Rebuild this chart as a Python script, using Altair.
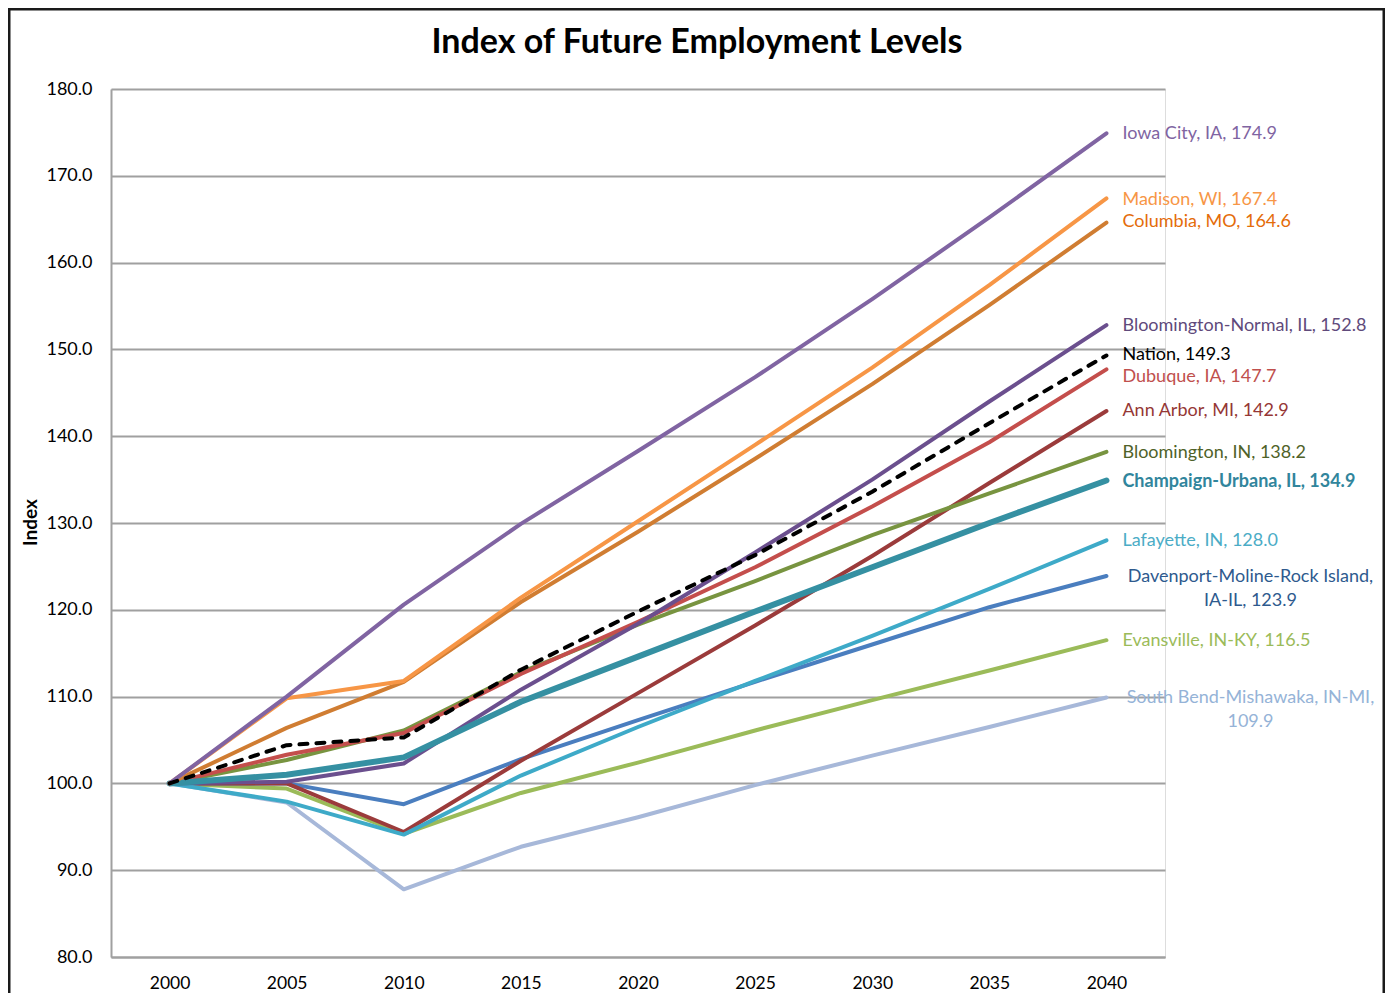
import altair as alt
import pandas as pd

years = ["2000", "2005", "2010", "2015", "2020", "2025", "2030", "2035", "2040"]

iowa_city = [100.0, 110.0, 120.6, 129.9, 138.3, 146.8, 155.8, 165.2, 174.9]
madison = [100.0, 109.8, 111.8, 121.4, 130.2, 139.0, 147.9, 157.4, 167.4]
columbia = [100.0, 106.4, 111.7, 120.9, 129.0, 137.4, 146.0, 155.1, 164.6]
bloomington_normal = [100.0, 100.2, 102.3, 110.8, 118.4, 126.6, 135.0, 144.0, 152.8]
nation = [100.0, 104.4, 105.3, 113.1, 119.8, 126.3, 133.6, 141.5, 149.3]
dubuque = [100.0, 103.3, 105.8, 112.6, 118.6, 124.9, 131.9, 139.3, 147.7]
ann_arbor = [100.0, 100.0, 94.4, 102.6, 110.4, 118.2, 126.2, 134.6, 142.9]
bloomington_in = [100.0, 102.7, 106.1, 112.8, 118.3, 123.3, 128.6, 133.4, 138.2]
champaign = [100.0, 101.0, 103.0, 109.4, 114.6, 119.8, 124.9, 130.0, 134.9]
lafayette = [100.0, 97.9, 94.1, 100.9, 106.5, 111.8, 117.0, 122.4, 128.0]
davenport = [100.0, 100.0, 97.6, 102.8, 107.3, 111.7, 116.0, 120.3, 123.9]
evansville = [100.0, 99.4, 94.2, 98.9, 102.4, 106.1, 109.6, 113.0, 116.5]
south_bend = [100.0, 97.8, 87.8, 92.7, 96.1, 99.8, 103.2, 106.5, 109.9]

series_names = [
    "South Bend", "Evansville", "Davenport", "Ann Arbor", "Lafayette",
    "Bloomington IN", "Dubuque", "Bloomington-Normal", "Champaign",
    "Columbia", "Madison", "Iowa City", "Nation",
]
series_values = [
    south_bend, evansville, davenport, ann_arbor, lafayette,
    bloomington_in, dubuque, bloomington_normal, champaign,
    columbia, madison, iowa_city, nation,
]
label_texts = [
    "South Bend-Mishawaka, IN-MI,\n109.9",
    "Evansville, IN-KY,  116.5",
    "Davenport-Moline-Rock Island,\nIA-IL, 123.9",
    "Ann Arbor, MI, 142.9",
    "Lafayette, IN, 128.0",
    "Bloomington,  IN,  138.2",
    "Dubuque, IA, 147.7",
    "Bloomington-Normal,  IL, 152.8",
    "Champaign-Urbana,  IL, 134.9",
    "Columbia,  MO, 164.6",
    "Madison, WI, 167.4",
    "Iowa City, IA, 174.9",
    "Nation,  149.3",
]

# styles (kept separate from data)
style = {
    "South Bend":         dict(line="#A7B8D9", text="#95B3D7", w=4, dash=None, dy=0.5, two=True),
    "Evansville":         dict(line="#9BBB59", text="#9BBB59", w=4, dash=None, dy=1, two=False),
    "Davenport":          dict(line="#4A7EBF", text="#2E5A8E", w=4, dash=None, dy=1, two=True),
    "Ann Arbor":          dict(line="#9B3B3B", text="#953735", w=4, dash=None, dy=0, two=False),
    "Lafayette":          dict(line="#3EAAC8", text="#4BACC6", w=4, dash=None, dy=0.5, two=False),
    "Bloomington IN":     dict(line="#789440", text="#4F6228", w=4, dash=None, dy=1, two=False),
    "Dubuque":            dict(line="#C44E4C", text="#C0504D", w=4, dash=None, dy=8, two=False),
    "Bloomington-Normal": dict(line="#6B4F8E", text="#604A7B", w=4, dash=None, dy=1, two=False),
    "Champaign":          dict(line="#3590A2", text="#31859C", w=6, dash=None, dy=1.5, two=False, bold=True),
    "Columbia":           dict(line="#D07D32", text="#E46C0A", w=4, dash=None, dy=-1, two=False),
    "Madison":            dict(line="#F79646", text="#F79646", w=4, dash=None, dy=2, two=False),
    "Iowa City":          dict(line="#8064A2", text="#8064A2", w=4, dash=None, dy=1, two=False),
    "Nation":             dict(line="#000000", text="#000000", w=4, dash=[8, 9], dy=0, two=False),
}

rows = []
for name, vals in zip(series_names, series_values):
    for yr, v in zip(years, vals):
        rows.append({"series": name, "year": yr, "value": v})
df = pd.DataFrame(rows)

lab_df = pd.DataFrame({
    "series": series_names,
    "label": label_texts,
    "year": [years[-1]] * len(series_names),
    "value": [vals[-1] for vals in series_values],
})

FONT = "Lato"
GRID = "#A0A0A0"

x_enc = alt.X(
    "year:O",
    sort=years,
    scale=alt.Scale(type="point", padding=0.5),
    axis=alt.Axis(title=None, labelAngle=0, ticks=False, grid=False,
                  domainColor=GRID, domainWidth=2, labelFont=FONT,
                  labelFontSize=17.5, labelColor="#000000", labelPadding=17),
)
y_enc = alt.Y(
    "value:Q",
    scale=alt.Scale(domain=[80, 180], nice=False, zero=False),
    axis=alt.Axis(title="Index", values=list(range(80, 181, 10)), format=".1f",
                  ticks=False, labelPadding=19, grid=True, gridColor=GRID,
                  gridWidth=2, domainColor=GRID, domainWidth=2,
                  labelFont=FONT, labelFontSize=18, labelColor="#000000",
                  titleX=-81, titleY=433, titleAngle=270, titleAlign="center",
                  titleBaseline="middle", titleFont=FONT, titleFontWeight="bold",
                  titleFontSize=19, titleColor="#000000"),
)

layers = []
for name in series_names:
    s = style[name]
    kw = dict(color=s["line"], strokeWidth=s["w"], strokeCap="round", strokeJoin="round")
    if s["dash"]:
        kw["strokeDash"] = s["dash"]
    layers.append(
        alt.Chart(df).transform_filter(alt.datum.series == name)
        .mark_line(**kw).encode(x=x_enc, y=y_enc)
    )

for name in series_names:
    s = style[name]
    kw = dict(font=FONT, fontSize=18, color=s["text"], baseline="middle",
              lineBreak="\n", dy=s["dy"], lineHeight=24.5)
    if s["two"]:
        kw.update(align="center", dx=144)
    else:
        kw.update(align="left", dx=16)
    if s.get("bold"):
        kw["fontWeight"] = "bold"
    layers.append(
        alt.Chart(lab_df).transform_filter(alt.datum.series == name)
        .mark_text(**kw).encode(x=alt.X("year:O", sort=years), y="value:Q", text="label:N")
    )

one = pd.DataFrame({"t": ["Index of Future Employment Levels"]})
title = alt.Chart(one).mark_text(font=FONT, fontSize=34, fontWeight="bold",
                                 align="center", baseline="middle", color="#000000").encode(
    text="t:N", x=alt.value(586), y=alt.value(-46))

frame_left = alt.Chart(one).mark_rule(color="#1A1A1A", strokeWidth=3).encode(
    x=alt.value(-102), y=alt.value(-81), y2=alt.value(905))
frame_top = alt.Chart(one).mark_rule(color="#1A1A1A", strokeWidth=3).encode(
    x=alt.value(-103), x2=alt.value(1274), y=alt.value(-80))
frame_right = alt.Chart(one).mark_rule(color="#1A1A1A", strokeWidth=3).encode(
    x=alt.value(1273), y=alt.value(-81), y2=alt.value(905))

chart = alt.layer(*layers, title, frame_left, frame_top, frame_right).properties(
    width=1054, height=868,
    autosize=alt.AutoSizeParams(type="none"),
    padding={"left": 103, "top": 81, "right": 220, "bottom": 36},
).configure_view(stroke=None).configure(background="white")

chart.save("out.html", embed_options={"renderer": "svg", "actions": False})
